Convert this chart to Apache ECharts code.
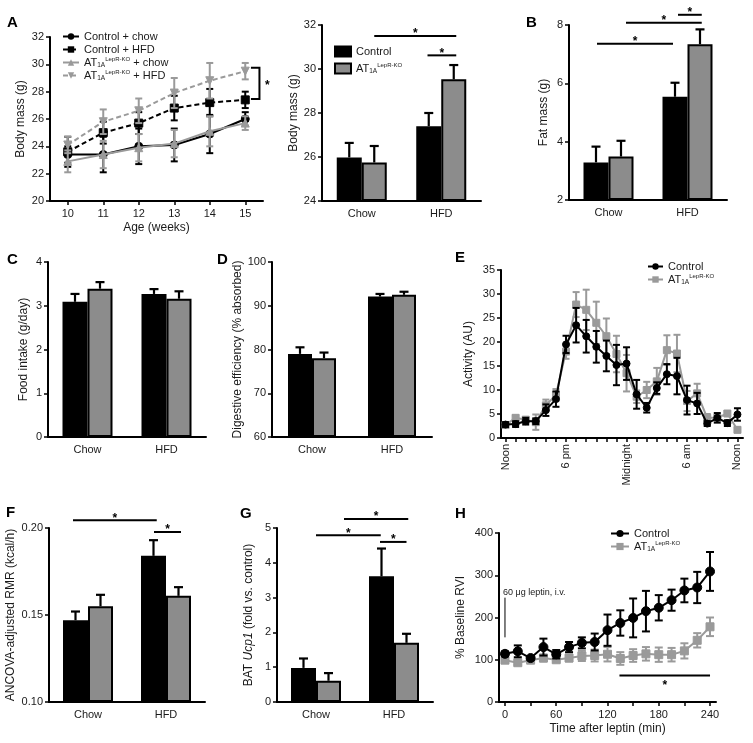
<!DOCTYPE html>
<html><head><meta charset="utf-8">
<script src="https://cdn.jsdelivr.net/npm/echarts@6/dist/echarts.min.js"></script>
<style>html,body{margin:0;padding:0;background:#fff}#c{width:753px;height:743px}</style>
</head><body><div id="c"></div>
<script>
// ================= DATA =================
// Panel A (left): body mass over age
const ageWeeks = [10, 11, 12, 13, 14, 15];
const ageTicks = [10, 11, 12, 13, 14, 15];
const ctlChowMass = [23.4, 23.4, 24.0, 24.1, 24.9, 26.0];
const ctlChowMassErr = [0.6, 1.3, 1.3, 1.2, 1.4, 0.5];
const ctlHfdMass = [23.6, 25.0, 25.7, 26.8, 27.2, 27.4];
const ctlHfdMassErr = [1.1, 0.8, 0.8, 0.9, 1.0, 0.6];
const atChowMass = [22.9, 23.4, 23.9, 24.2, 25.1, 25.7];
const atChowMassErr = [0.8, 1.0, 1.0, 1.0, 1.1, 0.5];
const atHfdMass = [24.1, 25.8, 26.6, 27.9, 28.8, 29.5];
const atHfdMassErr = [0.6, 0.9, 0.9, 1.1, 1.3, 0.6];
const massBracket = [[15.16, 29.75, 15.4, 27.46]];

// Bar panels
const dietCats = ['Chow', 'HFD'];
const bodyMassCtl = [25.98, 27.4], bodyMassCtlErr = [0.66, 0.6];
const bodyMassAt = [25.75, 29.53], bodyMassAtErr = [0.75, 0.65];
const fatMassCtl = [3.29, 5.54], fatMassCtlErr = [0.54, 0.48];
const fatMassAt = [3.49, 7.34], fatMassAtErr = [0.54, 0.51];
const foodCtl = [3.09, 3.27], foodCtlErr = [0.18, 0.11];
const foodAt = [3.39, 3.16], foodAtErr = [0.15, 0.17];
const digestCtl = [79.0, 92.1], digestCtlErr = [1.5, 0.6];
const digestAt = [78.0, 92.5], digestAtErr = [1.3, 0.7];
const rmrCtl = [0.147, 0.184], rmrCtlErr = [0.005, 0.009];
const rmrAt = [0.155, 0.161], rmrAtErr = [0.0066, 0.005];
const ucpCtl = [0.98, 3.61], ucpCtlErr = [0.27, 0.80];
const ucpAt = [0.61, 1.70], ucpAtErr = [0.22, 0.26];
// significance lines: [category1, y, side1, category2, side2]
const sigBodyMass = [[0, 31.5, 1, 1, 1.2], [1, 30.62, -1.1, 1, 1.2]];
const sigFatMass = [[0, 7.36, -0.92, 1, -1.16], [0, 8.08, 1.4, 1, 1.14], [1, 8.35, -0.76, 1, 1.14]];
const sigRmr = [[0, 0.2044, -1.2, 1, -0.74], [1, 0.1977, -0.96, 1, 1.2]];
const sigUcp = [[0, 4.79, 0, 1, -1.06], [0, 5.26, 2.24, 1, 1.14], [1, 4.6, -1.12, 1, 1.0]];

// Panel E: activity
const activityHours = [0,1,2,3,4,5,6,7,8,9,10,11,12,13,14,15,16,17,18,19,20,21,22,23];
const activityLabelHours = [0, 6, 12, 18, 23];
const activityLabelText = {0: 'Noon', 6: '6 pm', 12: 'Midnight', 18: '6 am', 23: 'Noon'};
const actCtl = [2.8, 2.9, 3.5, 3.5, 5.8, 8.1, 19.5, 23.5, 21.2, 19.0, 17.1, 15.2, 15.5, 9.1, 6.3, 10.4, 13.3, 12.9, 7.9, 7.2, 3.0, 4.2, 3.1, 4.9];
const actCtlErr = [0.5, 0.6, 0.7, 0.6, 1.2, 1.6, 1.8, 3.6, 3.4, 3.3, 3.2, 4.2, 3.4, 3.0, 1.0, 1.2, 2.1, 3.8, 3.0, 2.2, 0.5, 1.0, 0.6, 1.3];
const actAt = [2.7, 4.2, 3.8, 3.3, 6.8, 9.0, 18.0, 27.8, 26.7, 24.0, 21.2, 17.5, 13.5, 8.6, 10.0, 11.8, 18.3, 17.6, 7.7, 9.3, 4.2, 4.2, 5.1, 1.7];
const actAtErr = [0.5, 0.5, 0.6, 1.6, 1.2, 1.2, 1.5, 2.6, 4.2, 4.4, 3.7, 3.8, 3.8, 1.3, 1.7, 2.8, 3.1, 3.9, 2.1, 2.0, 0.8, 0.6, 0.5, 0.5];

// Panel H: RVI after leptin
const leptinTimes = [0, 15, 30, 45, 60, 75, 90, 105, 120, 135, 150, 165, 180, 195, 210, 225, 240];
const leptinTicks = [0, 30, 60, 90, 120, 150, 180, 210, 240];
const leptinLabels = [0, 60, 120, 180, 240];
const rviCtl = [114, 120, 104, 130, 113, 130, 140, 142, 170, 187, 199, 215, 223, 241, 264, 271, 309];
const rviCtlErr = [6, 14, 5, 20, 10, 12, 13, 20, 37, 30, 46, 48, 30, 25, 28, 37, 46];
const rviAt = [99, 93, 99, 104, 100, 104, 109, 110, 113, 103, 110, 114, 112, 112, 121, 146, 178];
const rviAtErr = [5, 5, 5, 8, 5, 8, 12, 14, 17, 15, 15, 16, 17, 16, 18, 17, 22];
const rviSig = [[134, 63, 240]];
const leptinInjection = [[0, 153, 247]];
const leptinInjectionText = '60 \u03bcg leptin, i.v.';

// ================= STYLE / HELPERS =================
const FONT = '"Liberation Sans", Arial, Helvetica, sans-serif';
const INK = '#000';
const GRAY_LINE = '#9a9a9a';
const GRAY_BAR = '#8c8c8c';
const TXT = '#1a1a1a';
const BAR_W = 25;
const AT_RICH = '{a|AT}{s|1A}{p|LepR-KO}';
const richStyles = {
  a: {fontSize: 11, lineHeight: 13, fontFamily: FONT, color: TXT},
  s: {fontSize: 6.5, lineHeight: 6, verticalAlign: 'bottom', fontFamily: FONT, color: TXT},
  p: {fontSize: 6, lineHeight: 6, verticalAlign: 'top', fontFamily: FONT, color: TXT}
};
const legendNames = {
  ctlChow: 'Control + chow', ctlHfd: 'Control + HFD',
  atChow: AT_RICH + '{a| + chow}', atHfd: AT_RICH + '{a| + HFD}',
  ctlBar: 'Control', atBar: AT_RICH, ctlAct: 'Control', atAct: AT_RICH, ctlRvi: 'Control', atRvi: AT_RICH
};

function zip3(a, b, c) { return a.map((v, i) => [v, b[i], c[i]]); }
function zip2(a, b) { return a.map((v, i) => [v, b[i]]); }

function yAx(gi, min, max, interval, name, nameGap, extra) {
  return Object.assign({
    type: 'value', gridIndex: gi, min, max, interval, name, nameLocation: 'middle', nameGap,
    nameTextStyle: {fontSize: 12, color: TXT, fontFamily: FONT},
    axisLine: {show: true, onZero: false, lineStyle: {color: INK, width: 2}},
    axisTick: {show: true, length: 4, lineStyle: {color: INK, width: 1.5}},
    axisLabel: {fontSize: 11, color: TXT, fontFamily: FONT, margin: 6},
    splitLine: {show: false}
  }, extra || {});
}
function catX(gi) {
  return {
    type: 'category', gridIndex: gi, data: dietCats, boundaryGap: true,
    axisLine: {show: true, onZero: false, lineStyle: {color: INK, width: 2}},
    axisTick: {show: false},
    axisLabel: {fontSize: 11, color: TXT, fontFamily: FONT, margin: 7},
    splitLine: {show: false}
  };
}
function valX(gi, min, max, ticks, labels, extra) {
  return Object.assign({
    type: 'value', gridIndex: gi, min, max,
    axisLine: {show: true, onZero: false, lineStyle: {color: INK, width: 2}},
    axisTick: {show: true, length: 4, customValues: ticks, lineStyle: {color: INK, width: 1.5}},
    axisLabel: {fontSize: 11, color: TXT, fontFamily: FONT, margin: 7, customValues: labels},
    splitLine: {show: false}
  }, extra || {});
}
function barSeries(gi, name, data, color, bw) {
  return {type: 'bar', name, xAxisIndex: gi, yAxisIndex: gi, data, barWidth: bw || BAR_W, barGap: '0%',
    itemStyle: {color, borderColor: INK, borderWidth: 2}, silent: true};
}
function barErr(gi, ctl, ctlE, at, atE, bw) {
  const w = bw || BAR_W;
  const data = ctl.map((v, i) => [i, v, ctlE[i], -1]).concat(at.map((v, i) => [i, v, atE[i], 1]));
  return {type: 'custom', xAxisIndex: gi, yAxisIndex: gi, data, silent: true, z: 5,
    renderItem(params, api) {
      const c = api.value(0), y = api.value(1), e = api.value(2), side = api.value(3);
      const p0 = api.coord([c, y]), p1 = api.coord([c, y + e]);
      const x = p0[0] + side * w / 2;
      const st = {stroke: INK, lineWidth: 2.2};
      return {type: 'group', children: [
        {type: 'line', shape: {x1: x, y1: p0[1], x2: x, y2: p1[1]}, style: st},
        {type: 'line', shape: {x1: x - 4.5, y1: p1[1], x2: x + 4.5, y2: p1[1]}, style: st}
      ]};
    }};
}
function sigSeries(gi, data) {
  return {type: 'custom', xAxisIndex: gi, yAxisIndex: gi, data, silent: true, z: 6,
    renderItem(params, api) {
      const c1 = api.value(0), y = api.value(1), s1 = api.value(2), c2 = api.value(3), s2 = api.value(4);
      const p1 = api.coord([c1, y]), p2 = api.coord([c2, y]);
      const x1 = p1[0] + s1 * BAR_W / 2, x2 = p2[0] + s2 * BAR_W / 2;
      return {type: 'group', children: [
        {type: 'line', shape: {x1, y1: p1[1], x2, y2: p1[1]}, style: {stroke: INK, lineWidth: 2}},
        {type: 'text', style: {text: '*', x: (x1 + x2) / 2, y: p1[1] - 2, align: 'center', verticalAlign: 'middle',
          fontSize: 12, fontWeight: 'bold', fontFamily: FONT, fill: INK}}
      ]};
    }};
}
function errSeries(gi, xs, ys, es, color, cap, z) {
  return {type: 'custom', xAxisIndex: gi, yAxisIndex: gi, data: zip3(xs, ys, es), silent: true, z: z,
    renderItem(params, api) {
      const x = api.value(0), y = api.value(1), e = api.value(2);
      const lo = api.coord([x, y - e]), hi = api.coord([x, y + e]);
      const st = {stroke: color, lineWidth: 2};
      return {type: 'group', children: [
        {type: 'line', shape: {x1: lo[0], y1: lo[1], x2: hi[0], y2: hi[1]}, style: st},
        {type: 'line', shape: {x1: lo[0] - cap, y1: lo[1], x2: lo[0] + cap, y2: lo[1]}, style: st},
        {type: 'line', shape: {x1: hi[0] - cap, y1: hi[1], x2: hi[0] + cap, y2: hi[1]}, style: st}
      ]};
    }};
}
function lineSeries(gi, name, xs, ys, color, symbol, size, dashed, z, rotate) {
  return {type: 'line', name, xAxisIndex: gi, yAxisIndex: gi, data: zip2(xs, ys),
    symbol, symbolSize: size, symbolRotate: rotate || 0, showSymbol: true, silent: true, z: z,
    lineStyle: {color, width: 2, type: dashed ? [5, 3] : 'solid'},
    itemStyle: {color, borderColor: color}};
}
function legendBase(extra) {
  return Object.assign({
    orient: 'vertical', padding: 0, itemGap: 0, selectedMode: false,
    textStyle: {fontSize: 11, lineHeight: 13, color: TXT, fontFamily: FONT, rich: richStyles},
    formatter: n => legendNames[n]
  }, extra);
}

// ================= OPTION =================
const option = {
  animation: false,
  textStyle: {fontFamily: FONT},
  grid: [
    {left: 50, top: 37, width: 213, height: 164},   // 0 A left
    {left: 322, top: 25, width: 159, height: 176},  // 1 A right
    {left: 569, top: 25, width: 158, height: 175},  // 2 B
    {left: 48, top: 262, width: 158, height: 175},  // 3 C
    {left: 272, top: 262, width: 160, height: 175}, // 4 D
    {left: 501, top: 270, width: 242, height: 168}, // 5 E
    {left: 49, top: 528, width: 156, height: 174},  // 6 F
    {left: 277, top: 528, width: 156, height: 174}, // 7 G
    {left: 499, top: 533, width: 217, height: 169}  // 8 H
  ],
  xAxis: [
    valX(0, 9.5, 15.5, ageTicks, ageTicks, {name: 'Age (weeks)', nameLocation: 'middle', nameGap: 21,
      nameTextStyle: {fontSize: 12, color: TXT, fontFamily: FONT}}),
    catX(1), catX(2), catX(3), catX(4),
    valX(5, -0.45, 23.55, activityHours, activityLabelHours),
    catX(6), catX(7),
    valX(8, -7, 247, leptinTicks, leptinLabels, {name: 'Time after leptin (min)', nameLocation: 'middle', nameGap: 21,
      nameTextStyle: {fontSize: 12, color: TXT, fontFamily: FONT}})
  ],
  yAxis: [
    yAx(0, 20, 32, 2, 'Body mass (g)', 23),
    yAx(1, 24, 32, 2, 'Body mass (g)', 22, {startValue: 24}),
    yAx(2, 2, 8, 2, 'Fat mass (g)', 19, {startValue: 2}),
    yAx(3, 0, 4, 1, 'Food intake (g/day)', 18),
    yAx(4, 60, 100, 10, 'Digestive efficiency (% absorbed)', 24, {startValue: 60}),
    yAx(5, 0, 35, 5, 'Activity (AU)', 26),
    yAx(6, 0.10, 0.20, 0.05, 'ANCOVA-adjusted RMR (kcal/h)', 32, {startValue: 0.10}),
    yAx(7, 0, 5, 1, '{n|BAT }{i|Ucp1}{n| (fold vs. control)}', 22),
    yAx(8, 0, 400, 100, '% Baseline RVI', 32)
  ],
  legend: [
    legendBase({left: 62, top: 30, itemWidth: 16, itemHeight: 8, data: ['ctlChow', 'ctlHfd', 'atChow', 'atHfd']}),
    legendBase({left: 334, top: 45, itemWidth: 16, itemHeight: 10, itemGap: 4, icon: 'rect', data: ['ctlBar', 'atBar']}),
    legendBase({left: 647, top: 260, itemWidth: 15, itemHeight: 8, data: ['ctlAct', 'atAct']}),
    legendBase({left: 610, top: 527, itemWidth: 18, itemHeight: 9, data: ['ctlRvi', 'atRvi']})
  ],
  series: [],
  graphic: []
};
// axis label tweaks
option.yAxis[6].axisLabel.formatter = v => v.toFixed(2);
option.yAxis[7].nameTextStyle.rich = {
  n: {fontSize: 12, color: TXT, fontFamily: FONT},
  i: {fontSize: 12, color: TXT, fontFamily: FONT, fontStyle: 'italic'}
};
option.xAxis[5].axisLabel.rotate = 90;
option.xAxis[5].axisLabel.margin = 6;
option.xAxis[5].axisLabel.formatter = v => activityLabelText[v] || '';

const S = option.series;
// A bars first so bar legend icons come from them
S.push(barSeries(1, 'ctlBar', bodyMassCtl, INK), barSeries(1, 'atBar', bodyMassAt, GRAY_BAR),
  barErr(1, bodyMassCtl, bodyMassCtlErr, bodyMassAt, bodyMassAtErr), sigSeries(1, sigBodyMass));
S.push(barSeries(2, 'ctlBar', fatMassCtl, INK), barSeries(2, 'atBar', fatMassAt, GRAY_BAR),
  barErr(2, fatMassCtl, fatMassCtlErr, fatMassAt, fatMassAtErr), sigSeries(2, sigFatMass));
S.push(barSeries(3, 'ctlBar', foodCtl, INK), barSeries(3, 'atBar', foodAt, GRAY_BAR),
  barErr(3, foodCtl, foodCtlErr, foodAt, foodAtErr));
S.push(barSeries(4, 'ctlBar', digestCtl, INK, 24), barSeries(4, 'atBar', digestAt, GRAY_BAR, 24),
  barErr(4, digestCtl, digestCtlErr, digestAt, digestAtErr, 24));
S.push(barSeries(6, 'ctlBar', rmrCtl, INK), barSeries(6, 'atBar', rmrAt, GRAY_BAR),
  barErr(6, rmrCtl, rmrCtlErr, rmrAt, rmrAtErr), sigSeries(6, sigRmr));
S.push(barSeries(7, 'ctlBar', ucpCtl, INK), barSeries(7, 'atBar', ucpAt, GRAY_BAR),
  barErr(7, ucpCtl, ucpCtlErr, ucpAt, ucpAtErr), sigSeries(7, sigUcp));

// A left lines
S.push(errSeries(0, ageWeeks, ctlChowMass, ctlChowMassErr, INK, 3.5, 2),
  errSeries(0, ageWeeks, ctlHfdMass, ctlHfdMassErr, INK, 3.5, 2),
  lineSeries(0, 'ctlChow', ageWeeks, ctlChowMass, INK, 'circle', 8, false, 3),
  lineSeries(0, 'ctlHfd', ageWeeks, ctlHfdMass, INK, 'rect', 8, true, 3),
  errSeries(0, ageWeeks, atChowMass, atChowMassErr, GRAY_LINE, 3.5, 4),
  errSeries(0, ageWeeks, atHfdMass, atHfdMassErr, GRAY_LINE, 3.5, 4),
  lineSeries(0, 'atChow', ageWeeks, atChowMass, GRAY_LINE, 'triangle', 8, false, 5),
  lineSeries(0, 'atHfd', ageWeeks, atHfdMass, GRAY_LINE, 'triangle', 8, true, 5, 180));
S.push({type: 'custom', xAxisIndex: 0, yAxisIndex: 0, data: massBracket, silent: true, z: 6,
  renderItem(params, api) {
    const a = api.coord([api.value(0), api.value(1)]), b = api.coord([api.value(2), api.value(3)]);
    const st = {stroke: INK, lineWidth: 2};
    return {type: 'group', children: [
      {type: 'polyline', shape: {points: [[a[0], a[1]], [b[0], a[1]], [b[0], b[1]], [a[0], b[1]]]}, style: Object.assign({fill: 'none'}, st)},
      {type: 'text', style: {text: '*', x: b[0] + 8, y: (a[1] + b[1]) / 2 + 2, align: 'center', verticalAlign: 'middle',
        fontSize: 12, fontWeight: 'bold', fontFamily: FONT, fill: INK}}
    ]};
  }});

// E activity
S.push(errSeries(5, activityHours, actAt, actAtErr, GRAY_LINE, 3.5, 2),
  lineSeries(5, 'atAct', activityHours, actAt, GRAY_LINE, 'rect', 7, false, 3),
  errSeries(5, activityHours, actCtl, actCtlErr, INK, 3.5, 4),
  lineSeries(5, 'ctlAct', activityHours, actCtl, INK, 'circle', 7, false, 5));

// H RVI
S.push(errSeries(8, leptinTimes, rviAt, rviAtErr, GRAY_LINE, 4, 2),
  lineSeries(8, 'atRvi', leptinTimes, rviAt, GRAY_LINE, 'rect', 8, false, 3),
  errSeries(8, leptinTimes, rviCtl, rviCtlErr, INK, 4, 4),
  lineSeries(8, 'ctlRvi', leptinTimes, rviCtl, INK, 'circle', 9, false, 5));
S.push({type: 'custom', xAxisIndex: 8, yAxisIndex: 8, data: rviSig, silent: true, z: 6,
  renderItem(params, api) {
    const a = api.coord([api.value(0), api.value(1)]), b = api.coord([api.value(2), api.value(1)]);
    return {type: 'group', children: [
      {type: 'line', shape: {x1: a[0], y1: a[1], x2: b[0], y2: b[1]}, style: {stroke: INK, lineWidth: 2}},
      {type: 'text', style: {text: '*', x: (a[0] + b[0]) / 2, y: a[1] + 10, align: 'center', verticalAlign: 'middle',
        fontSize: 12, fontWeight: 'bold', fontFamily: FONT, fill: INK}}
    ]};
  }});
S.push({type: 'custom', xAxisIndex: 8, yAxisIndex: 8, data: leptinInjection, silent: true, z: 6,
  renderItem(params, api) {
    const a = api.coord([api.value(0), api.value(1)]), b = api.coord([api.value(0), api.value(2)]);
    return {type: 'group', children: [
      {type: 'line', shape: {x1: a[0], y1: a[1], x2: b[0], y2: b[1]}, style: {stroke: INK, lineWidth: 1}},
      {type: 'text', style: {text: leptinInjectionText, x: b[0] - 2, y: b[1] - 1, align: 'left', verticalAlign: 'bottom',
        fontSize: 9, fontFamily: FONT, fill: TXT}}
    ]};
  }});

// panel letters
const letters = [['A', 7, 15], ['B', 526, 15], ['C', 7, 252], ['D', 217, 252], ['E', 455, 250], ['F', 6, 505], ['G', 240, 506], ['H', 455, 506]];
option.graphic = letters.map(l => ({type: 'text', left: l[1], top: l[2], silent: true,
  style: {text: l[0], fontSize: 15, fontWeight: 'bold', fontFamily: FONT, fill: INK}}));

const chart = echarts.init(document.getElementById('c'), null, {renderer: 'canvas'});
chart.setOption(option);
</script>
</body></html>
